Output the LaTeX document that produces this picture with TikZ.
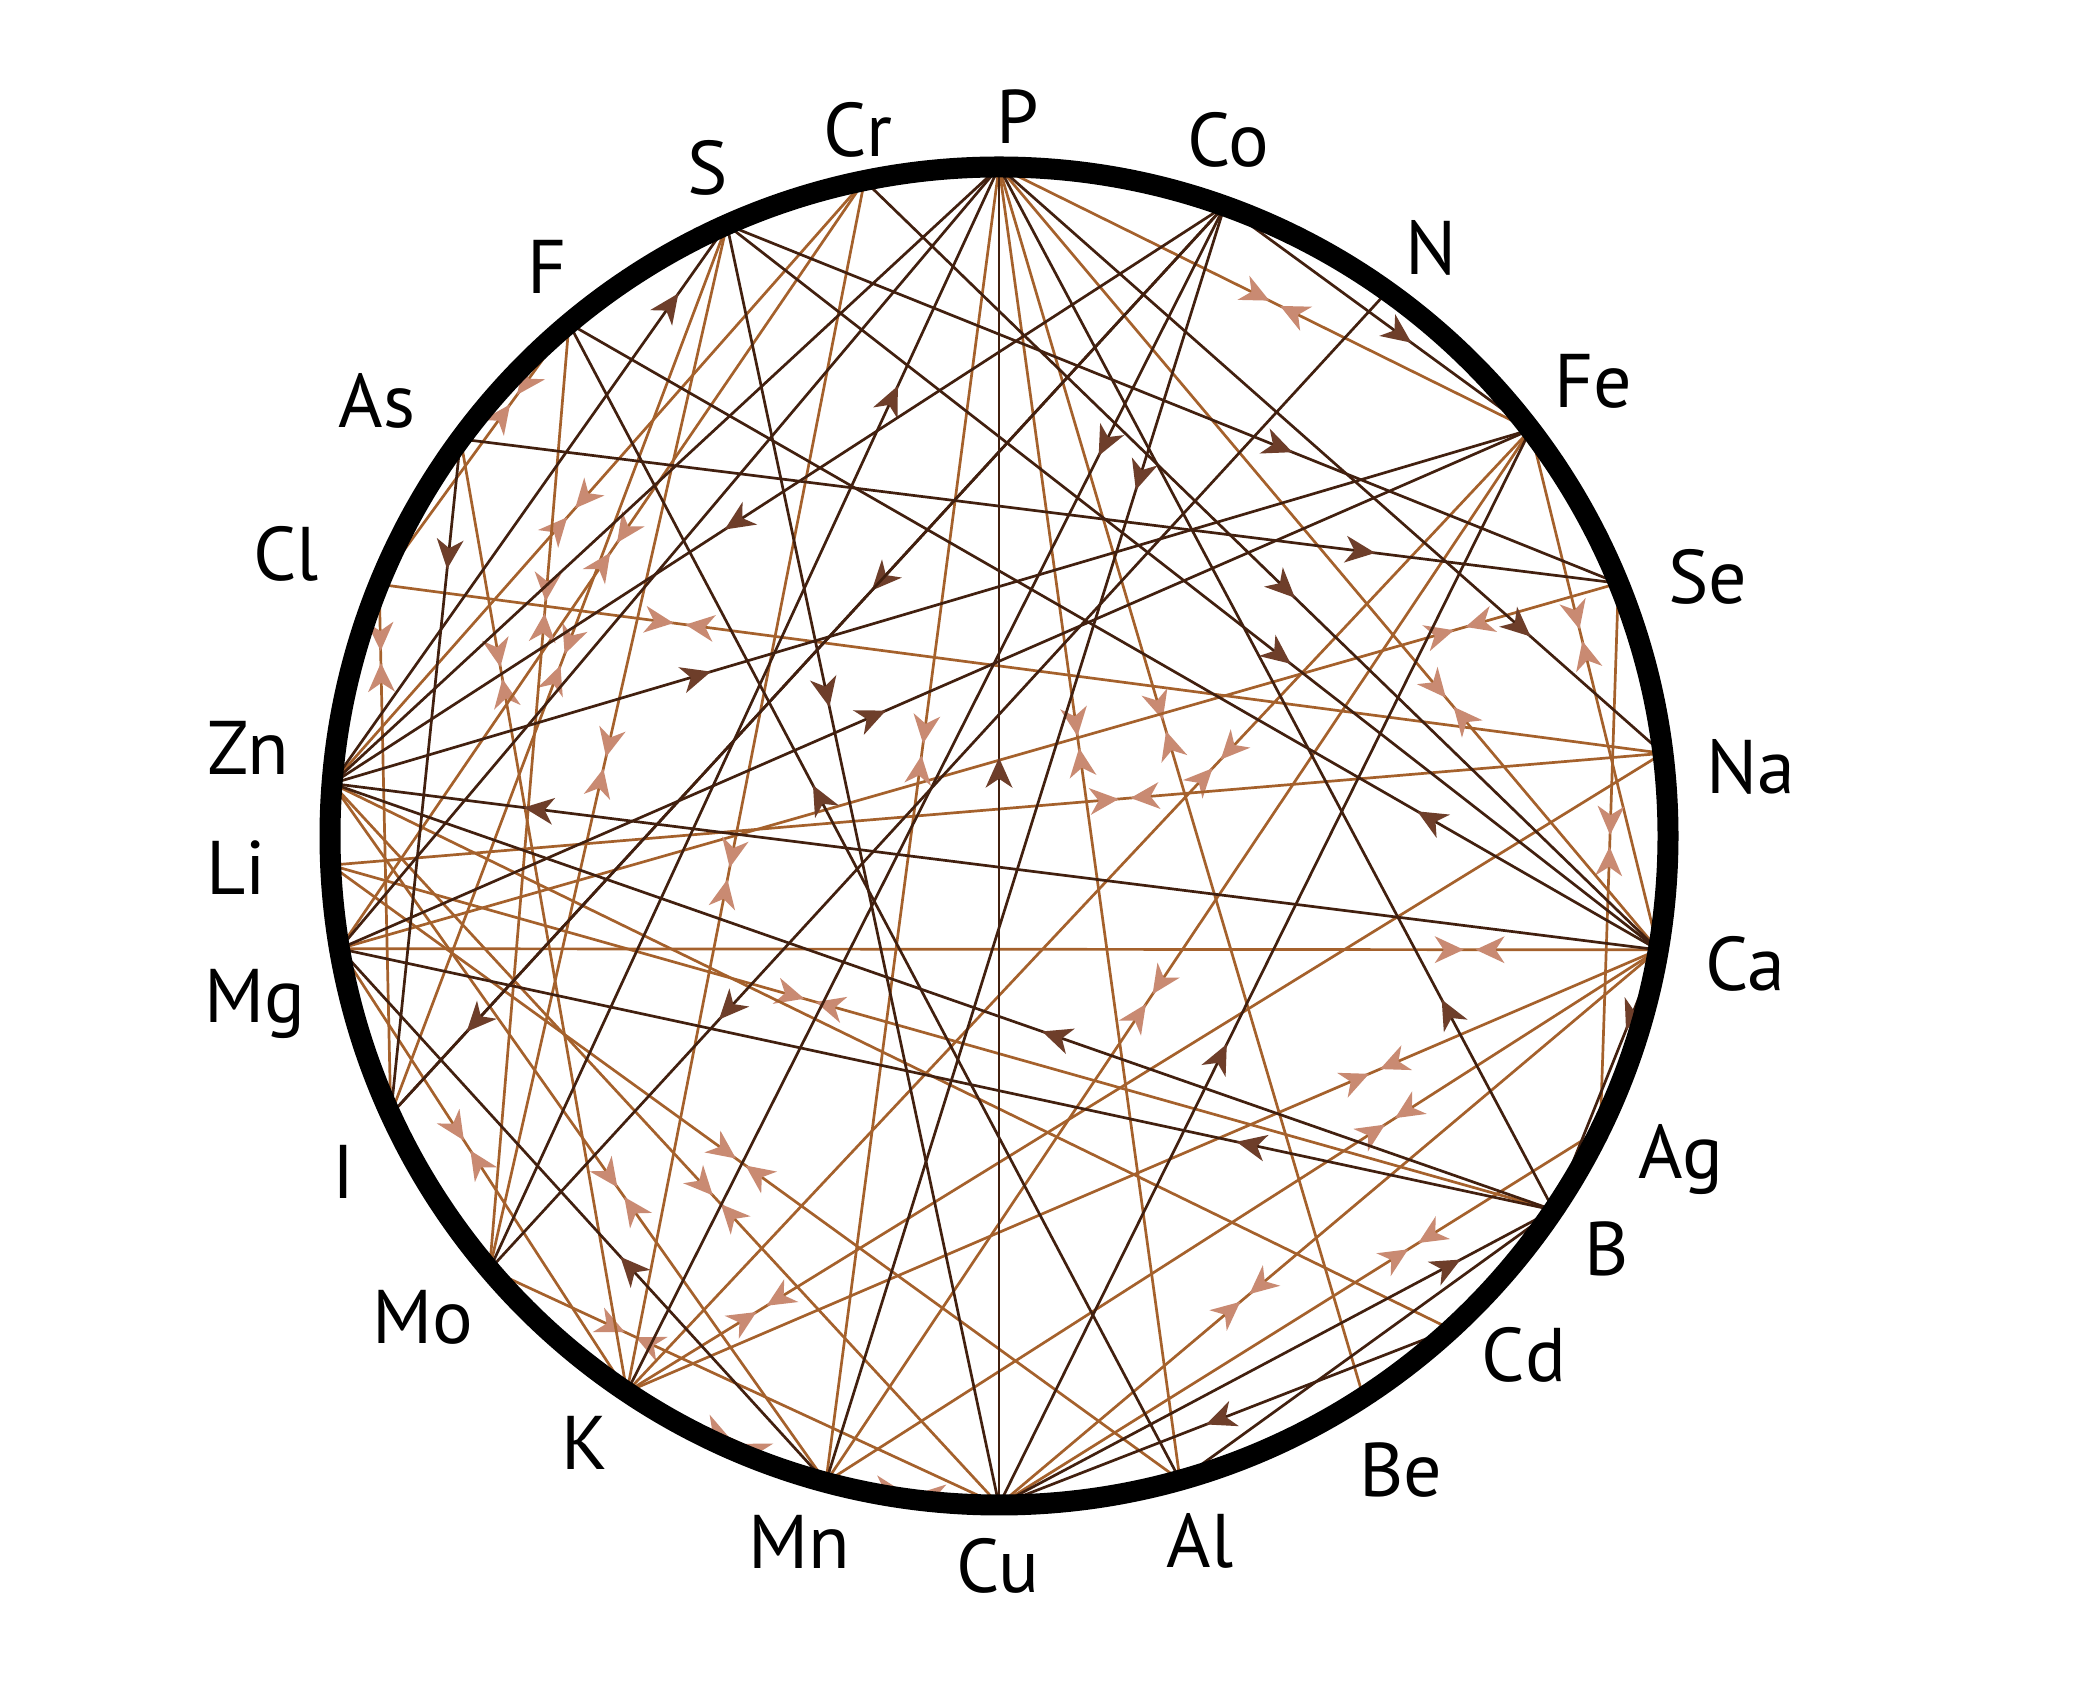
\documentclass[tikz,border=0pt]{standalone}
\usepackage{fontspec}
\setmainfont{PT Sans}
\usetikzlibrary{decorations.markings}
\definecolor{dk}{HTML}{42200F}
\definecolor{md}{HTML}{A5612C}
\definecolor{dka}{HTML}{6E3E2A}
\definecolor{lta}{HTML}{C98A72}
\begin{document}
\begin{tikzpicture}[x=1pt,y=1pt]
\tikzset{
 chord/.style={line width=2.7pt, line cap=round},
 dline/.style={chord, draw=dk},
 mline/.style={chord, draw=md},
 sarr/.style={dline, postaction={decorate}, decoration={markings, mark=at position #1 with {\fill[dka] (14pt,0pt) -- (-16pt,13.5pt) -- (-7pt,0pt) -- (-16pt,-13.5pt) -- cycle;}}},
 darr/.style={mline, postaction={decorate}, decoration={markings, mark=at position #1 with {\fill[lta] (-6pt,0pt) -- (-35pt,13.5pt) -- (-26pt,0pt) -- (-35pt,-13.5pt) -- cycle; \fill[lta] (6pt,0pt) -- (35pt,13.5pt) -- (26pt,0pt) -- (35pt,-13.5pt) -- cycle;}}},
 lab/.style={font=\fontsize{76}{80}\selectfont, text=black, inner sep=0pt},
 ring/.style={line width=21pt, draw=black},
}
\fill[white] (0,0) rectangle (2094,1698);
\useasboundingbox (0,0) rectangle (2094,1698);
\begin{scope}[shift={(999,862)}]
 \coordinate (O) at (0,0);
 \coordinate (P)  at (90:669pt);
 \coordinate (Cr) at (101.6:669pt);
 \coordinate (S)  at (114:669pt);
 \coordinate (F)  at (130:669pt);
 \coordinate (As) at (143.6:669pt);
 \coordinate (Cl) at (157.9:669pt);
 \coordinate (Zn) at (175.5:669pt);
 \coordinate (Li) at (182.5:669pt);
 \coordinate (Mg) at (189.7:669pt);
 \coordinate (I)  at (204.6:669pt);
 \coordinate (Mo) at (220.4:669pt);
 \coordinate (K)  at (236.2:669pt);
 \coordinate (Mn) at (255:669pt);
 \coordinate (Cu) at (270:669pt);
 \coordinate (Al) at (285.7:669pt);
 \coordinate (Be) at (303:669pt);
 \coordinate (Cd) at (312.5:669pt);
 \coordinate (B)  at (326:669pt);
 \coordinate (Ag) at (334:669pt);
 \coordinate (Ca) at (350.2:669pt);
 \coordinate (Na) at (7.1:669pt);
 \coordinate (Se) at (22.2:669pt);
 \coordinate (Fe) at (37.4:669pt);
 \coordinate (N)  at (54.5:669pt);
 \coordinate (Co) at (70.3:669pt);
\end{scope}

% double-arrow chords
\draw[darr=0.519] (P) -- (Fe);
\draw[darr=0.234] (Cl) -- (Na);
\draw[darr=0.857] (Mg) -- (Ca);
\draw[darr=0.13] (K) -- (Na);
\draw[darr=0.276] (Mo) -- (Cu);
\draw[darr=0.444] (Mg) -- (K);
\draw[darr=0.292] (F) -- (Cl);
\draw[darr=0.551] (Cr) -- (Zn);
\draw[darr=0.373] (Cu) -- (Ca);
\draw[darr=0.689] (Cu) -- (Ag);
\draw[darr=0.678] (Mn) -- (Ca);
\draw[darr=0.725] (K) -- (Ca);
\draw[darr=0.459] (Mn) -- (Fe);
\draw[darr=0.454] (P) -- (Be);
\draw[darr=0.438] (P) -- (Al);
\draw[darr=0.653] (K) -- (Fe);
\draw[darr=0.596] (Li) -- (Na);
\draw[darr=0.876] (Mg) -- (Se);
\draw[darr=0.395] (Fe) -- (Ca);
\draw[darr=0.472] (Se) -- (Ag);
\draw[darr=0.684] (P) -- (Ca);
\draw[darr=0.585] (Zn) -- (Mn);
\draw[darr=0.577] (Zn) -- (Cu);
\draw[darr=0.483] (Li) -- (Al);
\draw[darr=0.548] (K) -- (Mn);
\draw[darr=0.486] (Mn) -- (Cu);
\draw[darr=0.137] (Cl) -- (I);
\draw[darr=0.2455] (As) -- (K);
\draw[darr=0.489] (S) -- (I);
\draw[darr=0.515] (S) -- (Mo);
\draw[darr=0.572] (Cr) -- (K);
\draw[darr=0.443] (P) -- (Mn);
\draw[darr=0.392] (Li) -- (B);
\draw[darr=0.478] (Cr) -- (Mg);
\draw[darr=0.3] (F) -- (Mo);
\draw[mline] (Zn) -- (Cd);

% plain dark chords
\draw[dline] (P) -- (Zn);
\draw[dline] (P) -- (Mg);
\draw[dline] (Al) -- (B);

% single-arrow chords
\draw[sarr=0.548] (Cu) -- (P);
\draw[sarr=0.574] (Co) -- (Fe);
\draw[sarr=0.857] (Zn) -- (S);
\draw[sarr=0.778] (As) -- (Se);
\draw[sarr=0.845] (Ca) -- (Zn);
\draw[sarr=0.79] (Mo) -- (P);
\draw[sarr=0.2] (Co) -- (K);
\draw[sarr=0.212] (Co) -- (Mn);
\draw[sarr=0.62] (S) -- (Se);
\draw[sarr=0.53] (Cr) -- (Ca);
\draw[sarr=0.594] (S) -- (Ca);
\draw[sarr=0.785] (P) -- (Na);
\draw[sarr=0.21] (Ca) -- (F);
\draw[sarr=0.19] (B) -- (P);
\draw[sarr=0.417] (Cu) -- (Fe);
\draw[sarr=0.408] (B) -- (Zn);
\draw[sarr=0.25] (B) -- (Mg);
\draw[sarr=0.258] (Ca) -- (B);
\draw[sarr=0.81] (Cu) -- (B);
\draw[sarr=0.513] (Cd) -- (Cu);
\draw[sarr=0.403] (Mn) -- (Mg);
\draw[sarr=0.172] (As) -- (I);
\draw[sarr=0.305] (Zn) -- (Fe);
\draw[sarr=0.448] (Mg) -- (Fe);
\draw[sarr=0.734] (N) -- (Mo);
\draw[sarr=0.366] (S) -- (Cu);
\draw[sarr=0.59] (Al) -- (F);
\draw[sarr=0.412] (Co) -- (I);
\path[sarr=0.898] (Co) -- (I);
\draw[sarr=0.547] (Co) -- (Zn);

% ring
\draw[ring] (999,862) circle[radius=669pt];

% labels
\node[lab] (lP)  at (1018,1581.4) {P};
\node[lab] (lCr) at (857.9,1568) {Cr};
\node[lab] (lS)  at (707.5,1529.6) {S};
\node[lab] (lCo) at (1228,1558) {Co};
\node[lab] (lN)  at (1431,1450) {N};
\node[lab] (lFe) at (1593,1317) {Fe};
\node[lab] (lSe) at (1708,1121) {Se};
\node[lab] (lNa) at (1750.5,931.4) {Na};
\node[lab] (lCa) at (1745,734.2) {Ca};
\node[lab] (lAg) at (1681,538.2) {Ag};
\node[lab] (lB)  at (1607,449) {B};
\node[lab] (lCd) at (1524,343.5) {Cd};
\node[lab] (lBe) at (1400.5,227.5) {Be};
\node[lab] (lAl) at (1200,157.2) {Al};
\node[lab] (lCu) at (998.3,132.2) {Cu};
\node[lab] (lMn) at (799.3,156) {Mn};
\node[lab] (lK)  at (585,255.1) {K};
\node[lab] (lMo) at (423,380.2) {Mo};
\node[lab] (lI)  at (343.6,525.7) {I};
\node[lab] (lMg) at (254.5,694.1) {Mg};
\node[lab] (lLi) at (236.2,829.9) {Li};
\node[lab] (lZn) at (248,949.6) {Zn};
\node[lab] (lCl) at (286,1144) {Cl};
\node[lab] (lAs) at (376.9,1296.6) {As};
\node[lab] (lF)  at (546.8,1431.4) {F};
\end{tikzpicture}
\end{document}
